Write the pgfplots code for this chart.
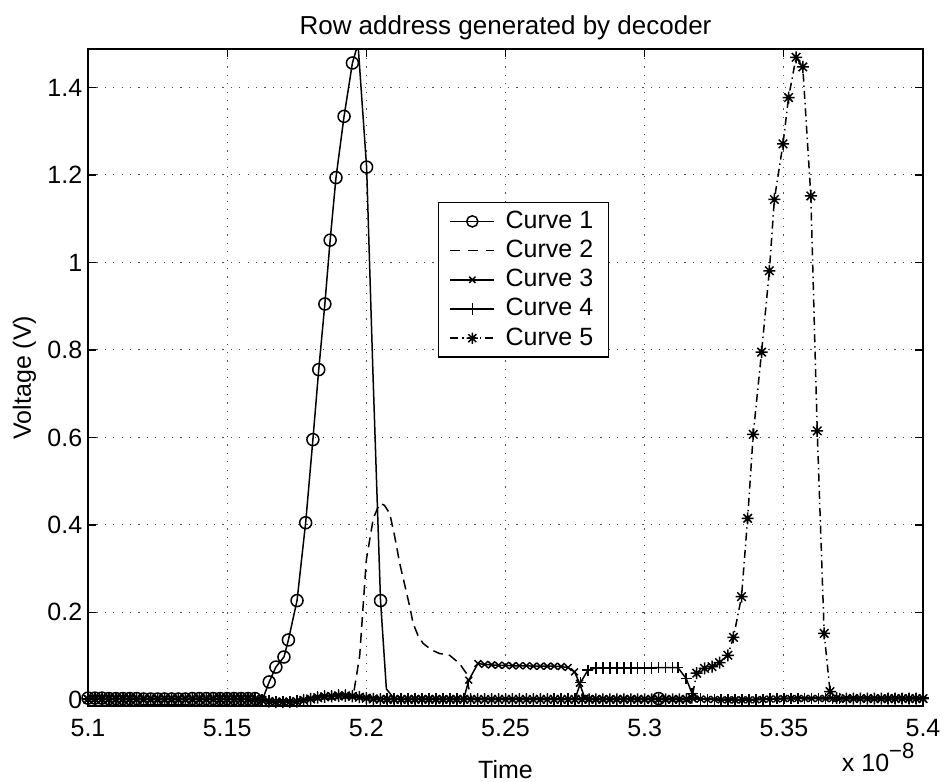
\documentclass[border=0pt]{standalone}
\usepackage{fontspec}
\setmainfont{Liberation Sans}
\usepackage{pgfplots}
\pgfplotsset{compat=1.18}
\pgfdeclareplotmark{mstar}{%
 \pgfpathmoveto{\pgfqpoint{-\pgfplotmarksize}{0pt}}\pgfpathlineto{\pgfqpoint{\pgfplotmarksize}{0pt}}%
 \pgfpathmoveto{\pgfqpoint{0pt}{-\pgfplotmarksize}}\pgfpathlineto{\pgfqpoint{0pt}{\pgfplotmarksize}}%
 \pgfpathmoveto{\pgfqpoint{-0.7071\pgfplotmarksize}{-0.7071\pgfplotmarksize}}\pgfpathlineto{\pgfqpoint{0.7071\pgfplotmarksize}{0.7071\pgfplotmarksize}}%
 \pgfpathmoveto{\pgfqpoint{-0.7071\pgfplotmarksize}{0.7071\pgfplotmarksize}}\pgfpathlineto{\pgfqpoint{0.7071\pgfplotmarksize}{-0.7071\pgfplotmarksize}}%
 \pgfusepathqstroke}
\begin{document}
\fontsize{12.5}{15}\selectfont
\begin{tikzpicture}
\path[use as bounding box] (-44pt,-38pt) rectangle (428pt,353pt);
\begin{axis}[
 scale only axis, width=417.5pt, height=328.5pt,
 xmin=5.1, xmax=5.4, ymin=-0.014, ymax=1.488,
 xtick={5.1,5.15,5.2,5.25,5.3,5.35,5.4},
 xticklabels={5.1,5.15,5.2,5.25,5.3,5.35,5.4},
 ytick={0,0.2,0.4,0.6,0.8,1,1.2,1.4},
 yticklabels={0,0.2,0.4,0.6,0.8,1,1.2,1.4},
 xticklabel style={anchor=base, yshift=-15.5pt, inner sep=0pt},
 yticklabel style={anchor=east, xshift=-2.7pt, inner sep=0pt},
 tick align=inside, major tick length=4pt,
 tick style={black, line width=0.6pt},
 axis line style={black, line width=0.75pt},
 grid=major,
 major grid style={black!70, line width=0.5pt, dash pattern=on 0.6pt off 3.6pt},
 clip mode=individual,
 legend style={at={(0.419,0.767)}, anchor=north west, inner xsep=5.5pt, inner ysep=2pt,
   column sep=3.3pt, cells={anchor=west}, font=\fontsize{12.5}{15}\selectfont, draw=black, line width=0.7pt},
 legend image code/.code={\draw[mark repeat=2,mark phase=2,#1] plot coordinates {(0pt,0pt) (11pt,0pt) (22pt,0pt)};},
]
% Curve 1
\addplot[forget plot, black, line width=0.75pt, mark=o, mark size=3pt, mark options={solid}, mark indices={1,...,39,41,...,121}] coordinates {
(5.1,0.004)(5.1025,0.004)(5.105,0.004)(5.1075,0.003)(5.11,0.003)(5.1125,0.003)(5.115,0.003)(5.1175,0.003)(5.12,0.002)(5.1225,0.002)(5.125,0.002)(5.1275,0.002)(5.13,0.002)(5.1325,0.002)(5.135,0.002)(5.1375,0.003)(5.14,0.003)(5.1425,0.003)(5.145,0.003)(5.1475,0.003)(5.15,0.003)(5.1525,0.003)(5.155,0.003)(5.1575,0.003)(5.16,0.003)
(5.1617,-0.016)(5.1651,0.041)(5.1675,0.075)(5.1704,0.098)(5.172,0.137)(5.1751,0.227)(5.1782,0.405)(5.1808,0.595)(5.1829,0.755)(5.1851,0.905)(5.187,1.051)(5.1891,1.194)(5.192,1.334)(5.195,1.456)(5.197,1.50)(5.2001,1.218)(5.2023,0.762)(5.2051,0.227)(5.2072,0.025)
(5.21,0.003)(5.2125,0.003)(5.215,0.003)(5.2175,0.003)(5.22,0.003)(5.2225,0.003)(5.225,0.003)(5.2275,0.003)(5.23,0.003)(5.2325,0.003)(5.235,0.003)(5.2375,0.003)(5.24,0.003)(5.2425,0.003)(5.245,0.003)(5.2475,0.003)(5.25,0.003)(5.2525,0.003)(5.255,0.003)(5.2575,0.003)(5.26,0.003)(5.2625,0.003)(5.265,0.003)(5.2675,0.003)(5.27,0.003)(5.2725,0.003)(5.275,0.003)(5.2775,0.003)(5.28,0.003)(5.2825,0.003)(5.285,0.003)(5.2875,0.003)(5.29,0.003)(5.2925,0.003)(5.295,0.003)(5.2975,0.003)(5.3,0.003)(5.3025,0.003)(5.305,0.003)(5.3075,0.003)(5.31,0.003)(5.3125,0.003)(5.315,0.003)(5.3175,0.003)(5.32,0.003)(5.3225,0.002)(5.325,0.002)(5.3275,0.001)(5.33,0.001)(5.3325,0.001)(5.335,0.001)(5.3375,0.001)(5.34,0.001)(5.3425,0.002)(5.345,0.003)(5.3475,0.003)(5.35,0.004)(5.3525,0.004)(5.355,0.004)(5.3575,0.004)(5.36,0.004)(5.3625,0.004)(5.365,0.004)(5.3675,0.004)(5.37,0.004)(5.3725,0.004)(5.375,0.004)(5.3775,0.004)(5.38,0.004)(5.3825,0.004)(5.385,0.004)(5.3875,0.004)(5.39,0.004)(5.3925,0.004)(5.395,0.004)(5.3975,0.004)(5.4,0.004)
};
% Curve 2
\addplot[forget plot, black, line width=0.75pt, dash pattern=on 5pt off 3pt] coordinates {
(5.1,0.001)(5.15,0.001)(5.165,-0.002)(5.175,-0.002)(5.19,0.003)(5.1952,0.006)(5.1976,0.10)(5.2,0.32)(5.2025,0.415)(5.2048,0.449)(5.2065,0.445)(5.2084,0.426)(5.21,0.38)(5.212,0.312)(5.2156,0.213)(5.2168,0.175)(5.2185,0.148)(5.2204,0.129)(5.2235,0.114)(5.2263,0.106)(5.2299,0.102)(5.2335,0.083)(5.2359,0.061)(5.2371,0.015)(5.238,0.003)(5.3,0.002)(5.4,0.002)
};
% Curve 3
\addplot[forget plot, black, line width=0.75pt, mark=x, mark size=2.4pt, mark options={solid}] coordinates {
(5.1,0.002)(5.1025,0.002)(5.105,0.002)(5.1075,0.002)(5.11,0.002)(5.1125,0.002)(5.115,0.002)(5.1175,0.002)(5.12,0.002)(5.1225,0.002)(5.125,0.002)(5.1275,0.002)(5.13,0.002)(5.1325,0.002)(5.135,0.002)(5.1375,0.002)(5.14,0.002)(5.1425,0.002)(5.145,0.002)(5.1475,0.002)(5.15,0.002)(5.1525,0.002)(5.155,0.002)(5.1575,0.002)(5.16,0.002)
(5.1625,0.000)(5.165,-0.003)(5.1675,-0.004)(5.17,-0.004)(5.1725,-0.004)(5.175,-0.003)(5.1775,0.000)(5.18,0.003)(5.1825,0.006)(5.185,0.008)(5.1875,0.009)(5.19,0.010)(5.1925,0.010)(5.195,0.009)(5.1975,0.007)(5.2,0.005)(5.2025,0.003)
(5.205,0.002)(5.2075,0.002)(5.21,0.002)(5.2125,0.002)(5.215,0.002)(5.2175,0.002)(5.22,0.002)(5.2225,0.002)(5.225,0.002)(5.2275,0.002)(5.23,0.002)(5.2325,0.002)(5.235,0.002)
(5.2368,0.045)(5.2401,0.083)(5.2425,0.081)(5.245,0.080)(5.2475,0.079)(5.25,0.079)(5.2525,0.078)(5.255,0.078)(5.2575,0.078)(5.26,0.077)(5.2625,0.077)(5.265,0.077)(5.2675,0.077)(5.27,0.076)(5.2725,0.074)(5.2748,0.064)(5.2766,0.038)(5.2785,0.004)
(5.28,0.002)(5.2825,0.002)(5.285,0.002)(5.2875,0.002)(5.29,0.002)(5.2925,0.002)(5.295,0.002)(5.2975,0.002)(5.3,0.002)(5.3025,0.002)(5.305,0.002)(5.3075,0.002)(5.31,0.002)(5.3125,0.002)(5.315,0.002)(5.3175,0.002)(5.32,0.002)(5.3225,0.001)(5.325,0.001)(5.3275,0.000)(5.33,0.000)(5.3325,0.000)(5.335,0.000)(5.3375,0.000)(5.34,0.000)(5.3425,0.001)(5.345,0.002)(5.3475,0.002)(5.35,0.003)(5.3525,0.003)(5.355,0.003)(5.3575,0.003)(5.36,0.003)(5.3625,0.003)(5.365,0.003)(5.3675,0.003)(5.37,0.003)(5.3725,0.003)(5.375,0.003)(5.3775,0.003)(5.38,0.003)(5.3825,0.003)(5.385,0.003)(5.3875,0.003)(5.39,0.003)(5.3925,0.003)(5.395,0.003)(5.3975,0.003)(5.4,0.003)
};
% Curve 4
\addplot[forget plot, black, line width=0.75pt, mark=+, mark size=2.8pt, mark options={solid}] coordinates {
(5.1,0.003)(5.1025,0.003)(5.105,0.003)(5.1075,0.003)(5.11,0.003)(5.1125,0.003)(5.115,0.003)(5.1175,0.003)(5.12,0.003)(5.1225,0.003)(5.125,0.003)(5.1275,0.003)(5.13,0.003)(5.1325,0.003)(5.135,0.003)(5.1375,0.003)(5.14,0.003)(5.1425,0.003)(5.145,0.003)(5.1475,0.003)(5.15,0.003)(5.1525,0.003)(5.155,0.003)(5.1575,0.003)(5.16,0.002)
(5.1625,0.000)(5.165,-0.002)(5.1675,-0.003)(5.17,-0.003)(5.1725,-0.003)(5.175,-0.002)(5.1775,0.001)(5.18,0.004)(5.1825,0.007)(5.185,0.009)(5.1875,0.010)(5.19,0.011)(5.1925,0.011)(5.195,0.010)(5.1975,0.008)(5.2,0.006)(5.2025,0.004)
(5.205,0.003)(5.2075,0.003)(5.21,0.003)(5.2125,0.003)(5.215,0.003)(5.2175,0.003)(5.22,0.003)(5.2225,0.003)(5.225,0.003)(5.2275,0.003)(5.23,0.003)(5.2325,0.003)(5.235,0.003)(5.2375,0.002)(5.24,0.002)(5.2425,0.002)(5.245,0.002)(5.2475,0.002)(5.25,0.002)(5.2525,0.002)(5.255,0.002)(5.2575,0.002)(5.26,0.002)(5.2625,0.002)(5.265,0.002)(5.2675,0.002)(5.27,0.002)(5.2725,0.002)(5.275,0.002)
(5.277,0.040)(5.2796,0.068)(5.2825,0.073)(5.285,0.073)(5.2875,0.073)(5.29,0.073)(5.2925,0.073)(5.295,0.073)(5.2975,0.073)(5.3,0.073)(5.3025,0.073)(5.305,0.074)(5.3075,0.074)(5.31,0.074)(5.3119,0.074)(5.3149,0.049)(5.317,0.015)
(5.32,0.002)(5.3225,0.001)(5.325,0.001)(5.3275,0.000)(5.33,0.000)(5.3325,0.000)(5.335,0.000)(5.3375,0.000)(5.34,0.001)(5.3425,0.001)(5.345,0.002)(5.3475,0.003)(5.35,0.003)(5.3525,0.003)(5.355,0.004)(5.3575,0.004)(5.36,0.004)(5.3625,0.004)(5.365,0.004)(5.3675,0.004)(5.37,0.004)(5.3725,0.004)(5.375,0.004)(5.3775,0.004)(5.38,0.004)(5.3825,0.004)(5.385,0.004)(5.3875,0.004)(5.39,0.004)(5.3925,0.004)(5.395,0.004)(5.3975,0.004)(5.4,0.004)
};
% Curve 5
\addplot[forget plot, black, line width=0.75pt, dash pattern=on 4pt off 2pt on 0.7pt off 2pt, mark=mstar, mark size=3pt, mark options={solid}] coordinates {
(5.1,0.001)(5.1025,0.001)(5.105,0.001)(5.1075,0.001)(5.11,0.001)(5.1125,0.001)(5.115,0.001)(5.1175,0.001)(5.12,0.001)(5.1225,0.001)(5.125,0.001)(5.1275,0.001)(5.13,0.001)(5.1325,0.001)(5.135,0.001)(5.1375,0.001)(5.14,0.001)(5.1425,0.001)(5.145,0.001)(5.1475,0.001)(5.15,0.001)(5.1525,0.001)(5.155,0.001)(5.1575,0.001)(5.16,0.001)
(5.1625,-0.001)(5.165,-0.004)(5.1675,-0.005)(5.17,-0.005)(5.1725,-0.005)(5.175,-0.004)(5.1775,-0.001)(5.18,0.002)(5.1825,0.005)(5.185,0.007)(5.1875,0.008)(5.19,0.009)(5.1925,0.009)(5.195,0.008)(5.1975,0.006)(5.2,0.004)(5.2025,0.002)
(5.205,0.001)(5.2075,0.001)(5.21,0.001)(5.2125,0.001)(5.215,0.001)(5.2175,0.001)(5.22,0.001)(5.2225,0.001)(5.225,0.001)(5.2275,0.001)(5.23,0.001)(5.2325,0.001)(5.235,0.001)(5.2375,0.001)(5.24,0.001)(5.2425,0.001)(5.245,0.001)(5.2475,0.001)(5.25,0.001)(5.2525,0.001)(5.255,0.001)(5.2575,0.001)(5.26,0.001)(5.2625,0.001)(5.265,0.001)(5.2675,0.001)(5.27,0.001)(5.2725,0.001)(5.275,0.001)(5.2775,0.001)(5.28,0.001)(5.2825,0.001)(5.285,0.001)(5.2875,0.001)(5.29,0.001)(5.2925,0.001)(5.295,0.001)(5.2975,0.001)(5.3,0.001)(5.3025,0.001)(5.305,0.001)(5.3075,0.001)(5.31,0.001)(5.3125,0.001)(5.315,0.001)
(5.317,0.005)(5.3187,0.061)(5.3215,0.072)(5.3242,0.076)(5.3269,0.085)(5.3299,0.102)(5.3319,0.143)(5.3348,0.236)(5.337,0.415)(5.339,0.607)(5.342,0.795)(5.3448,0.981)(5.3466,1.144)(5.3497,1.271)(5.3517,1.377)(5.3544,1.469)(5.3568,1.447)(5.3597,1.152)(5.362,0.615)(5.3645,0.152)(5.3666,0.019)(5.369,0.004)
(5.3725,0.003)(5.375,0.003)(5.3775,0.003)(5.38,0.003)(5.3825,0.003)(5.385,0.003)(5.3875,0.003)(5.39,0.003)(5.3925,0.003)(5.395,0.003)(5.3975,0.003)(5.4,0.003)
};
\addlegendimage{black, line width=0.75pt, mark=o, mark size=2.8pt, mark options={solid}}
\addlegendentry{Curve 1}
\addlegendimage{black, line width=0.75pt, dash pattern=on 5pt off 4pt}
\addlegendentry{Curve 2}
\addlegendimage{black, line width=0.75pt, mark=x, mark size=2.2pt, mark options={solid}}
\addlegendentry{Curve 3}
\addlegendimage{black, line width=0.75pt, mark=+, mark size=2.8pt, mark options={solid}}
\addlegendentry{Curve 4}
\addlegendimage{black, line width=0.75pt, dash pattern=on 4pt off 2pt on 0.7pt off 2pt, mark=mstar, mark size=2.8pt, mark options={solid}}
\addlegendentry{Curve 5}
\node[anchor=base] at ([yshift=7pt]rel axis cs:0.5,1) {\fontsize{13}{15}\selectfont Row address generated by decoder};
\node[anchor=base] at ([yshift=-36.5pt]rel axis cs:0.5,0) {Time};
\node[anchor=base, rotate=90] at ([xshift=-28.5pt]rel axis cs:0,0.5) {Voltage (V)};
\node[anchor=base east] at ([yshift=-33pt]rel axis cs:1,0) {x 10\raisebox{0.55em}{\fontsize{11}{12}\selectfont −8}};
\end{axis}
\end{tikzpicture}
\end{document}
